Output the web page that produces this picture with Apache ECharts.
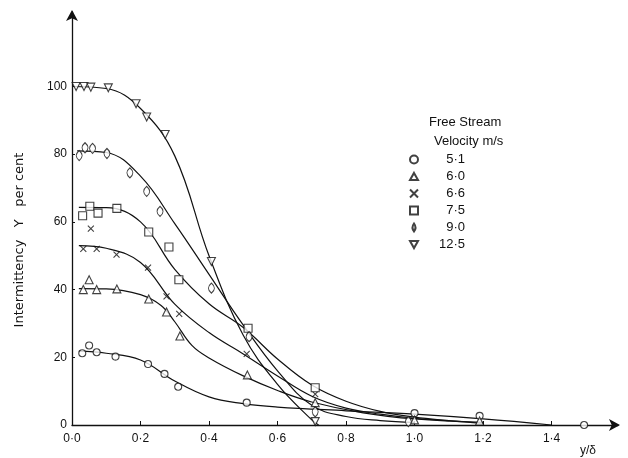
<!DOCTYPE html>
<html>
<head>
<meta charset="utf-8">
<script src="https://cdn.jsdelivr.net/npm/echarts@6/dist/echarts.min.js"></script>
<style>html,body{margin:0;padding:0;background:#fff}#c{width:628px;height:458px}</style>
</head>
<body>
<div id="c"></div>
<script>
// tick labels
const xTickValues = [0, 0.2, 0.4, 0.6, 0.8, 1.0, 1.2, 1.4];
const xTickLabels = ['0·0', '0·2', '0·4', '0·6', '0·8', '1·0', '1·2', '1·4'];
const yTickValues = [0, 20, 40, 60, 80, 100];
const yTickLabels = ['0', '20', '40', '60', '80', '100'];
const seriesNames = ['5·1', '6·0', '6·6', '7·5', '9·0', '12·5'];

// measured points (y/delta, intermittency %)
const pts51x = [0.03, 0.05, 0.072, 0.127, 0.222, 0.27, 0.31, 0.51, 1.0, 1.19, 1.495];
const pts51y = [21.2, 23.5, 21.5, 20.2, 18.0, 15.1, 11.3, 6.6, 3.5, 2.7, 0];
const pts60x = [0.033, 0.05, 0.072, 0.131, 0.224, 0.276, 0.315, 0.512, 0.71, 1.0, 1.19];
const pts60y = [40.0, 42.9, 40.0, 40.2, 37.2, 33.4, 26.3, 14.8, 6.6, 1.5, 1.2];
const pts66x = [0.033, 0.055, 0.072, 0.13, 0.222, 0.276, 0.313, 0.51, 0.71];
const pts66y = [52.0, 58.0, 52.0, 50.3, 46.5, 38.0, 32.8, 21.0, 9.1];
const pts75x = [0.031, 0.052, 0.076, 0.131, 0.224, 0.283, 0.312, 0.514, 0.71];
const pts75y = [61.8, 64.6, 62.6, 64.0, 57.0, 52.6, 42.9, 28.6, 11.0];
const pts90x = [0.021, 0.038, 0.06, 0.102, 0.169, 0.218, 0.257, 0.407, 0.517, 0.71, 0.982];
const pts90y = [79.6, 81.9, 81.7, 80.2, 74.5, 69.0, 63.1, 40.4, 26.1, 3.9, 1.0];
const pts125x = [0.012, 0.035, 0.055, 0.106, 0.187, 0.218, 0.272, 0.407, 0.71];
const pts125y = [100, 100, 99.8, 99.6, 94.9, 91.0, 85.8, 48.3, 1.0];

// faired curves
const cur51x = [0.02, 0.1, 0.2, 0.3, 0.4, 0.5, 0.6, 0.8, 1.0, 1.2, 1.4];
const cur51y = [21.8, 21.2, 19.2, 13.0, 8.3, 6.3, 5.3, 4.2, 3.2, 1.8, 0];
const cur60x = [0.02, 0.1, 0.2, 0.26, 0.3, 0.35, 0.4, 0.5, 0.6, 0.7, 0.85, 1.0, 1.2];
const cur60y = [40.3, 40.2, 38.5, 35.3, 30.5, 23.5, 19.8, 14.5, 10.2, 6.8, 3.6, 1.8, 0.8];
const cur66x = [0.02, 0.1, 0.2, 0.3, 0.4, 0.5, 0.6, 0.7, 0.8, 0.9, 1.0, 1.1];
const cur66y = [53.0, 52.2, 48.0, 35.7, 27.3, 21.0, 14.5, 8.5, 5.0, 3.2, 2.0, 1.3];
const cur75x = [0.02, 0.1, 0.2, 0.3, 0.4, 0.5, 0.6, 0.7, 0.8, 0.9, 1.0, 1.1, 1.2];
const cur75y = [64.3, 64.2, 60.0, 46.0, 35.8, 28.8, 19.5, 11.8, 7.0, 4.0, 2.3, 1.3, 0.5];
const cur90x = [0.015, 0.1, 0.2, 0.3, 0.4, 0.5, 0.6, 0.7, 0.8, 0.9, 1.0];
const cur90y = [81.0, 80.5, 73.5, 59.5, 44.5, 29.5, 16.0, 5.8, 2.5, 1.3, 0.8];
const cur125x = [0, 0.1, 0.2, 0.3, 0.4, 0.5, 0.6, 0.7, 0.72];
const cur125y = [100, 99.4, 93.5, 79.5, 50.0, 26.5, 12.0, 1.5, 0];

const pts = [[pts51x, pts51y], [pts60x, pts60y], [pts66x, pts66y], [pts75x, pts75y], [pts90x, pts90y], [pts125x, pts125y]];
const curves = [[cur51x, cur51y], [cur60x, cur60y], [cur66x, cur66y], [cur75x, cur75y], [cur90x, cur90y], [cur125x, cur125y]];

const symbols = [
  'circle',
  'path://M5,0L10,9L0,9Z',
  'path://M0,0L10,10M10,0L0,10',
  'rect',
  'path://M5,0Q9.5,6 5,12Q0.5,6 5,0Z',
  'path://M0,0L10,0L5,9Z'
];
const sizes = [7, 8, 6, 8, [6, 10], 8];

const ink = '#111';
const font = 'Liberation Sans, Arial, sans-serif';
const zip = (a, b) => a.map((v, i) => [v, b[i]]);

const series = [];
curves.forEach((c, i) => {
  series.push({
    type: 'line', name: 'curve' + i, data: zip(c[0], c[1]),
    showSymbol: false, symbol: 'none', smooth: 0.4,
    lineStyle: { color: ink, width: 1.2 }, silent: true, z: 2
  });
});
pts.forEach((p, i) => {
  series.push({
    type: 'scatter', name: seriesNames[i], data: zip(p[0], p[1]),
    symbol: symbols[i], symbolSize: sizes[i],
    itemStyle: { color: '#fff', borderColor: ink, borderWidth: 1.1 }, z: 3
  });
});

const chart = echarts.init(document.getElementById('c'), null, { renderer: 'canvas' });
chart.setOption({
  animation: false,
  backgroundColor: '#fff',
  grid: { left: 72, right: 10, top: 12, bottom: 33, containLabel: false },
  xAxis: {
    type: 'value', min: 0, max: 1.594, interval: 0.2,
    axisLine: { lineStyle: { color: ink, width: 1.3 }, symbol: ['none', 'arrow'], symbolSize: [9, 11], symbolOffset: [0, 2] },
    axisTick: { inside: true, length: 4, lineStyle: { color: ink }, customValues: xTickValues },
    axisLabel: {
      customValues: xTickValues, color: ink, fontFamily: font, fontSize: 12, margin: 8,
      formatter: v => { const k = xTickValues.findIndex(t => Math.abs(t - v) < 1e-6); return k >= 0 ? xTickLabels[k] : ''; }
    },
    splitLine: { show: false }
  },
  yAxis: {
    type: 'value', min: 0, max: 122, interval: 20,
    axisLine: { show: true, lineStyle: { color: ink, width: 1.3 }, symbol: ['none', 'arrow'], symbolSize: [9, 11], symbolOffset: [0, 2] },
    axisTick: { show: true, inside: true, length: 3, lineStyle: { color: ink }, customValues: yTickValues },
    axisLabel: {
      customValues: yTickValues, color: ink, fontFamily: font, fontSize: 12, margin: 5,
      formatter: v => { const k = yTickValues.indexOf(v); return k >= 0 ? yTickLabels[k] : ''; }
    },
    splitLine: { show: false }
  },
  legend: {
    data: seriesNames, orient: 'vertical', left: 404, top: 148,
    itemWidth: 8, itemHeight: 8, itemGap: 4, selectedMode: false,
    formatter: n => '{v|' + n + '}',
    textStyle: { color: ink, fontFamily: font, fontSize: 13,
      rich: { v: { width: 42, align: 'right', fontFamily: font, fontSize: 13, color: ink, lineHeight: 14 } } }
  },
  graphic: [
    { type: 'text', left: 429, top: 116, style: { text: 'Free Stream', fill: ink, font: '13px ' + font } },
    { type: 'text', left: 434, top: 135, style: { text: 'Velocity m/s', fill: ink, font: '13px ' + font } },
    { type: 'text', x: 20, y: 240, rotation: Math.PI / 2, style: { text: 'Intermittency   Y   per cent', fill: ink, font: '13px DejaVu Sans, sans-serif', align: 'center', verticalAlign: 'middle' } },
    { type: 'text', left: 580, top: 445, style: { text: 'y/δ', fill: ink, font: '12px ' + font } }
  ],
  series: series
});
</script>
</body>
</html>
